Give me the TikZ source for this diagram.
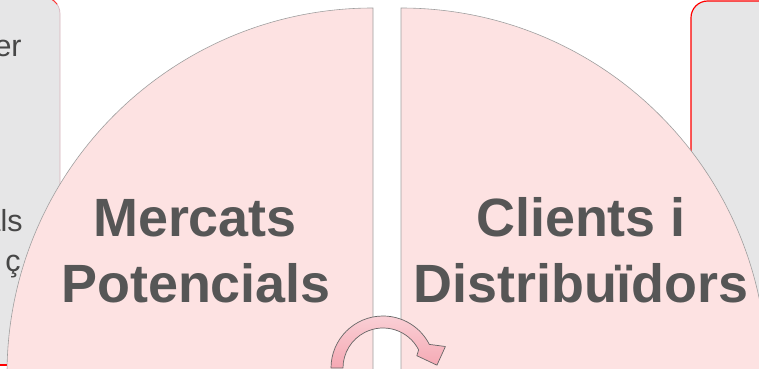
\documentclass[tikz,border=0pt]{standalone}
\usepackage{fontspec}
\setmainfont{Liberation Sans}
\definecolor{pinkfill}{HTML}{FDE2E2}
\definecolor{boxgray}{HTML}{E6E6E7}
\definecolor{boxedge}{HTML}{D9B3BC}
\definecolor{textgray}{HTML}{565656}
\definecolor{arrowpink}{HTML}{F5A8B3}
\tikzset{
  bigtext/.style={anchor=base,inner sep=0pt,text=textgray,font=\fontsize{46}{66}\selectfont\bfseries},
  sidetext/.style={anchor=base east,inner sep=0pt,text=black!72,font=\fontsize{26}{30}\selectfont},
  quarter/.style={fill=pinkfill,draw=black!38,line width=0.5pt},
  sidebox/.style={fill=boxgray,rounded corners=0.5cm}
}
\begin{document}
\begin{tikzpicture}[x=0.03cm,y=0.03cm,line width=0.6pt]
\useasboundingbox (0,0) rectangle (759,369);
\clip (0,0) rectangle (759,369);
% side panels behind
\draw[sidebox,draw=boxedge] (-30,4) rectangle (60,372);
\draw[red,line width=1pt] (0,4) -- (30,4);
\draw[red!80,line width=0.8pt] (43.3,372) arc[start angle=90,end angle=35,radius=16.67];
\node[sidetext] (er) at (22,312) {er};
\node[sidetext] (als) at (23,137) {als};
\node[sidetext] (cc) at (21,97) {ç};
\draw[sidebox,draw=red,line width=1pt] (691,-20) rectangle (800,368);
% the two quarter discs
\draw[quarter] (373,-5) -- (373,361) arc[start angle=90,end angle=180,radius=366] -- cycle;
\draw[quarter] (401,-5) -- (401,361) arc[start angle=90,end angle=0,radius=366] -- cycle;
% labels
\node[bigtext] (mercats) at (195,132) {Mercats};
\node[bigtext] (potencials) at (196,66) {Potencials};
\node[bigtext] (clients) at (581,132) {Clients i};
\node[bigtext] (distrib) at (581,66) {Distribuïdors};
% curved arrow at the bottom
\begin{scope}[shift={(383,1)}]
\draw[top color=arrowpink!55!white,bottom color=arrowpink,draw=black!60,line join=round]
  (180:52) arc[start angle=180,end angle=27,radius=52]
  -- (19:66) -- (3:54) -- (20:36) -- (27:40)
  arc[start angle=27,end angle=180,radius=40] -- cycle;
\end{scope}
\end{tikzpicture}
\end{document}
